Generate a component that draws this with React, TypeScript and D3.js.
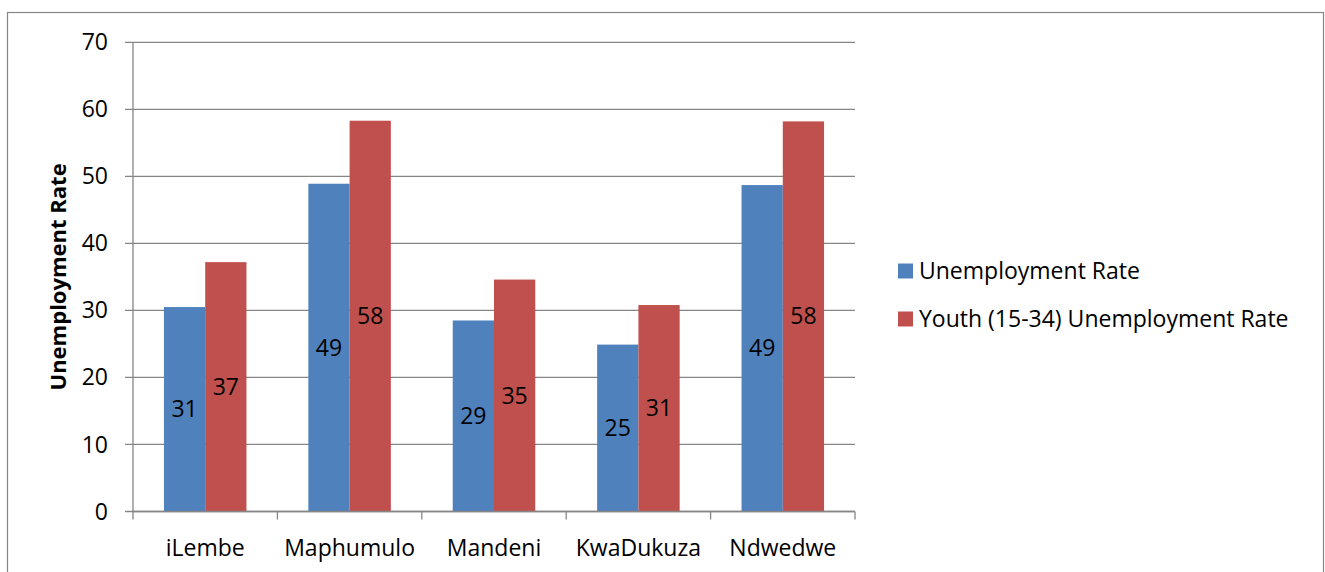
import React from "react";
import * as d3 from "d3";

const categories = ["iLembe", "Maphumulo", "Mandeni", "KwaDukuza", "Ndwedwe"];
const unemployment = [30.5, 48.9, 28.5, 24.9, 48.7];
const youthUnemployment = [37.2, 58.3, 34.6, 30.8, 58.2];
const yTicks = [0, 10, 20, 30, 40, 50, 60, 70];
const seriesNames = ["Unemployment Rate", "Youth (15-34) Unemployment Rate"];
const colors = ["#4F81BD", "#C0504D"];

const W = 1325, H = 572;
const m = { l: 133, r: 855, t: 42.3, b: 511.5 };
const FONT = "'Open Sans', 'DejaVu Sans', sans-serif";
const AXIS = "#868686";
const FS = 23;

export default function App() {
  const x = d3.scaleBand<string>().domain(categories).range([m.l, m.r]).paddingInner(0).paddingOuter(0);
  const y = d3.scaleLinear().domain([0, 70]).range([m.b, m.t]);
  const barW = x.bandwidth() / 3.5;
  const series = [unemployment, youthUnemployment];

  return (
    <svg width={W} height={H} style={{ position: "absolute", left: 0, top: 0, background: "#fff" }} fontFamily={FONT}>
      <rect x={7.5} y={12.5} width={1316} height={600} fill="#fff" stroke={AXIS} strokeWidth={1.2} />
      {/* gridlines + y ticks */}
      {yTicks.map((t) => (
        <g key={t}>
          <line x1={m.l - 8} x2={m.r} y1={y(t)} y2={y(t)} stroke={AXIS} strokeWidth={1.3} />
          <text x={108} y={y(t)} dy="0.35em" textAnchor="end" fontSize={FS} fill="#000">{t}</text>
        </g>
      ))}
      <line x1={m.l} x2={m.l} y1={m.t} y2={m.b} stroke={AXIS} strokeWidth={1.3} />
      {/* bars */}
      {categories.map((c, i) => (
        <g key={c}>
          {series.map((s, j) => {
            const bx = (x(c) as number) + x.bandwidth() / 2 - barW + j * barW;
            return (
              <g key={j}>
                <rect x={bx} y={y(s[i])} width={barW} height={y(0) - y(s[i])} fill={colors[j]} />
                <text x={bx + barW / 2} y={(y(s[i]) + y(0)) / 2} dy="0.35em" textAnchor="middle" fontSize={FS} fill="#000">
                  {Math.round(s[i])}
                </text>
              </g>
            );
          })}
        </g>
      ))}
      {/* x axis */}
      <line x1={m.l} x2={m.r} y1={y(0)} y2={y(0)} stroke={AXIS} strokeWidth={1.3} />
      {categories.concat([""]).map((c, i) => {
        const tx = m.l + i * x.bandwidth();
        return <line key={"t" + i} x1={tx} x2={tx} y1={y(0)} y2={y(0) + 8} stroke={AXIS} strokeWidth={1.3} />;
      })}
      {categories.map((c) => (
        <text key={c} x={(x(c) as number) + x.bandwidth() / 2} y={548} dy="0.35em" textAnchor="middle" fontSize={FS} fill="#000">{c}</text>
      ))}
      {/* y title */}
      <text transform={`translate(58,${(m.t + m.b) / 2}) rotate(-90)`} textAnchor="middle" dy="0.35em" fontSize={22} fontWeight="bold" fill="#000">
        Unemployment Rate
      </text>
      {/* legend */}
      {seriesNames.map((n, j) => (
        <g key={n} transform={`translate(898,${271 + j * 48})`}>
          <rect x={0} y={-7.5} width={15} height={15} fill={colors[j]} />
          <text x={21} y={0} dy="0.35em" fontSize={FS} fill="#000">{n}</text>
        </g>
      ))}
    </svg>
  );
}
